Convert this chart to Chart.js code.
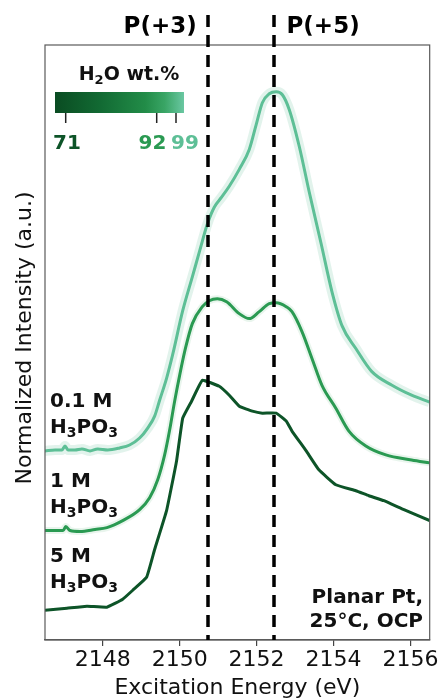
<!DOCTYPE html>
<html><head><meta charset="utf-8">
<script src="https://cdn.jsdelivr.net/npm/chart.js@4/dist/chart.umd.min.js"></script>
<style>html,body{margin:0;padding:0;background:#fff}</style>
</head><body>
<canvas id="c" width="442" height="700"></canvas>
<script>
// ---- data ----
const energy99 = [2146.50,2146.76,2146.94,2147.02,2147.10,2147.28,2147.46,2147.67,2147.87,2148.13,2148.44,2148.70,2148.96,2149.17,2149.35,2149.48,2149.66,2149.82,2150.08,2150.33,2150.52,2150.72,2150.90,2151.09,2151.29,2151.55,2151.81,2151.99,2152.15,2152.33,2152.51,2152.67,2152.85,2153.11,2153.37,2153.68,2153.96,2154.22,2154.58,2154.99,2155.52,2156.03,2156.50];
const intensity99 = [1.90,1.91,1.91,1.95,1.91,1.91,1.92,1.90,1.92,1.91,1.93,1.96,2.03,2.13,2.25,2.41,2.63,2.87,3.31,3.65,3.91,4.18,4.35,4.45,4.56,4.73,4.93,5.18,5.40,5.49,5.51,5.48,5.33,4.96,4.50,3.98,3.50,3.16,2.93,2.70,2.56,2.46,2.39];

const energy92 = [2146.50,2146.76,2146.97,2147.04,2147.15,2147.41,2147.80,2148.11,2148.52,2148.96,2149.22,2149.43,2149.61,2149.74,2149.87,2150.00,2150.15,2150.33,2150.59,2150.77,2150.98,2151.22,2151.55,2151.81,2152.07,2152.33,2152.51,2152.77,2152.92,2153.18,2153.44,2153.70,2154.06,2154.40,2154.84,2155.36,2156.03,2156.50];
const intensity92 = [1.10,1.10,1.10,1.14,1.10,1.09,1.11,1.13,1.20,1.31,1.43,1.61,1.86,2.11,2.40,2.66,2.93,3.18,3.35,3.41,3.43,3.40,3.28,3.23,3.30,3.38,3.39,3.35,3.30,3.10,2.83,2.56,2.33,2.10,1.95,1.86,1.81,1.78];

const energy71 = [2146.50,2147.07,2147.59,2148.11,2148.52,2148.78,2149.14,2149.35,2149.66,2149.92,2150.08,2150.31,2150.59,2151.03,2151.29,2151.55,2151.89,2152.15,2152.51,2152.77,2152.92,2153.29,2153.62,2154.06,2154.58,2154.92,2155.31,2155.83,2156.50];
const intensity71 = [0.30,0.32,0.34,0.33,0.41,0.50,0.63,0.91,1.30,1.80,2.23,2.40,2.61,2.55,2.46,2.35,2.30,2.28,2.28,2.20,2.10,1.90,1.71,1.56,1.50,1.45,1.40,1.31,1.20];

const xTicks = [2148, 2150, 2152, 2154, 2156];
const refEnergies = [2150.73, 2152.44];
const refLabels = ['P(+3)', 'P(+5)'];
const seriesLabels = [['0.1 M', 'H₃PO₃'], ['1 M', 'H₃PO₃'], ['5 M', 'H₃PO₃']];
const waterLabels = ['71', '92', '99'];
const noteLines = ['Planar Pt,', '25°C, OCP'];

// ---- styling ----
const C99 = '#5dbf96', C92 = '#2a9a52', C71 = '#0d5428';
const FONT = '"DejaVu Sans", sans-serif';

function pts(xs, ys) { return xs.map((x, i) => ({x: x, y: ys[i]})); }

const subMap = {'₀':'0','₁':'1','₂':'2','₃':'3','₄':'4','₅':'5','₆':'6','₇':'7','₈':'8','₉':'9'};
function richParts(str) {
  const parts = [];
  for (const ch of str) {
    const sub = subMap[ch] !== undefined;
    const t = sub ? subMap[ch] : ch;
    if (parts.length && parts[parts.length-1].sub === sub) parts[parts.length-1].t += t;
    else parts.push({t: t, sub: sub});
  }
  return parts;
}
function drawRich(ctx, str, x, y, size, align, color) {
  const parts = richParts(str);
  const subSize = Math.round(size * 0.7);
  let w = 0;
  parts.forEach(p => { ctx.font = 'bold ' + (p.sub ? subSize : size) + 'px ' + FONT; p.w = ctx.measureText(p.t).width; w += p.w; });
  let cx = align === 'right' ? x - w : (align === 'center' ? x - w / 2 : x);
  ctx.fillStyle = color; ctx.textAlign = 'left'; ctx.textBaseline = 'alphabetic';
  parts.forEach(p => {
    ctx.font = 'bold ' + (p.sub ? subSize : size) + 'px ' + FONT;
    ctx.fillText(p.t, cx, p.sub ? y + size * 0.22 : y);
    cx += p.w;
  });
}

const decor = {
  id: 'decor',
  afterDraw(chart) {
    const ctx = chart.ctx, a = chart.chartArea, xs = chart.scales.x;
    ctx.save();
    // frame
    ctx.strokeStyle = '#5a5a5a'; ctx.lineWidth = 1.2;
    ctx.strokeRect(a.left, a.top, a.right - a.left, a.bottom - a.top);
    // reference dashed lines
    ctx.strokeStyle = '#000'; ctx.lineWidth = 3.5; ctx.setLineDash([12, 8]);
    refEnergies.forEach(e => {
      const px = Math.round(xs.getPixelForValue(e));
      ctx.beginPath(); ctx.moveTo(px, 15); ctx.lineTo(px, a.bottom); ctx.stroke();
    });
    ctx.setLineDash([]);
    // labels above
    const p3 = xs.getPixelForValue(refEnergies[0]), p5 = xs.getPixelForValue(refEnergies[1]);
    drawRich(ctx, refLabels[0], p3 - 11, 33, 23, 'right', '#000');
    drawRich(ctx, refLabels[1], p5 + 13, 33, 23, 'left', '#000');
    // colour bar
    const bx = 55, by = 92, bw = 129, bh = 21;
    const g = ctx.createLinearGradient(bx, 0, bx + bw, 0);
    g.addColorStop(0, '#0a4c22'); g.addColorStop(0.35, '#126a33'); g.addColorStop(0.7, '#228c48');
    g.addColorStop(0.85, '#39a565'); g.addColorStop(1, '#6ac7a2');
    ctx.fillStyle = g; ctx.fillRect(bx, by, bw, bh);
    const tickX = [65.7, 156.7, 176];
    ctx.strokeStyle = '#222'; ctx.lineWidth = 1.5;
    tickX.forEach(tx => { ctx.beginPath(); ctx.moveTo(tx, by + bh); ctx.lineTo(tx, by + bh + 10); ctx.stroke(); });
    drawRich(ctx, 'H₂O wt.%', 129, 80, 19, 'center', '#111');
    const labX = [67, 152.5, 185], labC = [C71, C92, C99];
    waterLabels.forEach((t, i) => drawRich(ctx, t, labX[i], 149, 20, 'center', labC[i]));
    // series labels
    const base = [407, 487, 562];
    seriesLabels.forEach((ls, i) => {
      drawRich(ctx, ls[0], 50, base[i], 20, 'left', '#111');
      drawRich(ctx, ls[1], 50, base[i] + 26, 20, 'left', '#111');
    });
    // note
    drawRich(ctx, noteLines[0], 423, 603, 20, 'right', '#111');
    drawRich(ctx, noteLines[1], 423, 627, 20, 'right', '#111');
    // y title
    ctx.translate(25, 338); ctx.rotate(-Math.PI / 2);
    ctx.font = '22px ' + FONT; ctx.fillStyle = '#111'; ctx.textAlign = 'center'; ctx.textBaseline = 'middle';
    ctx.fillText('Normalized Intensity (a.u.)', 0, 0);
    ctx.restore();
  }
};

const lineDs = (label, xs, ys, color, order) => ({
  label: label, data: pts(xs, ys), borderColor: color, borderWidth: 3,
  pointRadius: 0, cubicInterpolationMode: 'monotone', fill: false, order: order
});
const haloDs = (xs, ys, color, w) => ({
  label: 'halo', data: pts(xs, ys), borderColor: color, borderWidth: w,
  pointRadius: 0, cubicInterpolationMode: 'monotone', fill: false, order: 5
});

new Chart(document.getElementById('c'), {
  type: 'line',
  data: {
    datasets: [
      lineDs('99 wt.%', energy99, intensity99, C99, 1),
      lineDs('92 wt.%', energy92, intensity92, C92, 1),
      Object.assign(lineDs('71 wt.%', energy71, intensity71, C71, 1), {cubicInterpolationMode: 'default', tension: 0.1}),
      haloDs(energy99, intensity99, 'rgba(93,191,150,0.18)', 10),
      haloDs(energy92, intensity92, 'rgba(42,154,82,0.10)', 7)
    ]
  },
  options: {
    responsive: false, animation: false, devicePixelRatio: 1,
    layout: {padding: {left: 45, right: 11, top: 45, bottom: 0}},
    plugins: {legend: {display: false}, tooltip: {enabled: false}},
    scales: {
      x: {
        type: 'linear', min: 2146.5, max: 2156.5,
        afterBuildTicks: ax => { ax.ticks = xTicks.map(v => ({value: v})); },
        grid: {display: true, drawOnChartArea: false, drawTicks: true, tickLength: 6, color: '#444', lineWidth: 1.2},
        border: {display: true, color: '#5a5a5a', width: 1.2},
        ticks: {padding: 3, color: '#111', font: {family: FONT, size: 22, lineHeight: 1}, maxRotation: 0, callback: v => String(v)},
        title: {display: true, text: 'Excitation Energy (eV)', color: '#111', font: {family: FONT, size: 22, lineHeight: 1}, padding: {top: 3, bottom: 1}}
      },
      y: {display: false, min: 0, max: 5.98}
    }
  },
  plugins: [decor]
});
</script>
</body></html>
